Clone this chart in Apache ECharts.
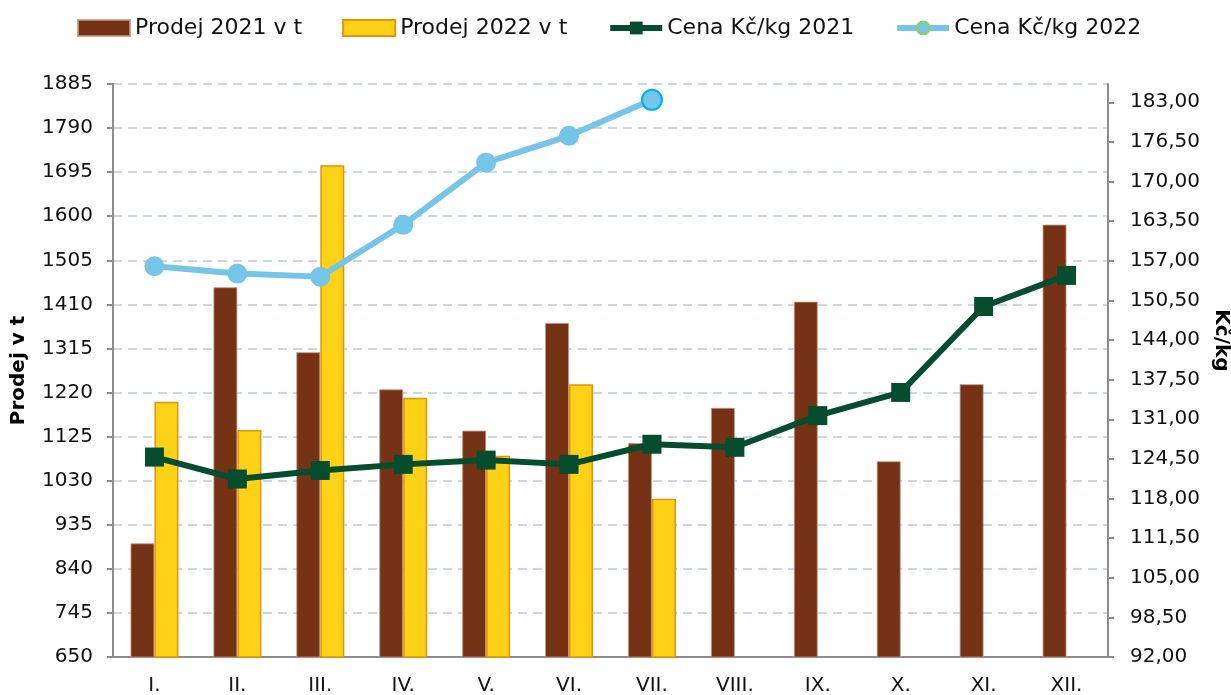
<!DOCTYPE html>
<html>
<head>
<meta charset="utf-8">
<title>Prodej a cena</title>
<script src="https://cdn.jsdelivr.net/npm/echarts@6/dist/echarts.min.js"></script>
<style>
	html, body { margin: 0; padding: 0; background: #fff; }
	#chart { width: 1231px; height: 695px; }
</style>
</head>
<body>
<div id="chart"></div>
<script>
var months = ['I.', 'II.', 'III.', 'IV.', 'V.', 'VI.', 'VII.', 'VIII.', 'IX.', 'X.', 'XI.', 'XII.'];
var prodej2021 = [895, 1447, 1307, 1227, 1138, 1370, 1111, 1187, 1416, 1072, 1238, 1582];
var prodej2022 = [1200, 1139, 1710, 1209, 1084, 1238, 991];
var cena2021 = [124.8, 121.2, 122.6, 123.6, 124.3, 123.6, 126.9, 126.4, 131.6, 135.4, 149.5, 154.6];
var cena2022 = [156.1, 154.9, 154.4, 162.9, 173.1, 177.5, 183.4];

var main = {
	init: function() {
		main.chart()
	},
	chart: function() {
		var myChart = echarts.init(document.getElementById('chart'));
		var font = 'DejaVu Sans, Verdana, sans-serif';

		// posledni bod 2022 ma tmavsi okraj
		var cena2022Data = cena2022.map(function(v, i) {
			if (i == cena2022.length - 1) {
				return { value: v, itemStyle: { borderColor: '#00B0F0', borderWidth: 2 } };
			}
			return v;
		});

		var option = {
			animation: false,
			textStyle: { fontFamily: font },
			legend: {
				top: 12,
				left: 72,
				itemWidth: 52,
				itemHeight: 16,
				itemGap: 40,
				textStyle: { fontSize: 22, color: '#111', fontFamily: font },
				data: [
					{ name: 'Prodej 2021 v t', icon: 'rect' },
					{ name: 'Prodej 2022 v t', icon: 'rect' },
					{ name: 'Cena Kč/kg 2021', lineStyle: { width: 6 } },
					{ name: 'Cena Kč/kg 2022', lineStyle: { width: 6 }, itemStyle: { borderColor: '#92D050', borderWidth: 2 } }
				]
			},
			grid: {
				left: 113,
				right: 123,
				top: 84,
				bottom: 38,
				outerBoundsMode: 'none'
			},
			xAxis: {
				type: 'category',
				data: months,
				axisLine: { lineStyle: { color: '#8c8c8c', width: 2 } },
				axisTick: { show: false },
				axisLabel: { fontSize: 20, color: '#111', margin: 19 }
			},
			yAxis: [{
				type: 'value',
				name: 'Prodej v t',
				nameLocation: 'middle',
				nameGap: 84,
				nameTextStyle: { fontSize: 20, fontWeight: 'bold', color: '#000' },
				min: 650,
				max: 1885,
				interval: 95,
				axisLine: { show: true, lineStyle: { color: '#8c8c8c', width: 2 } },
				axisTick: { show: true, length: 6, lineStyle: { color: '#8c8c8c', width: 2 } },
				axisLabel: {
					fontSize: 20,
					color: '#111',
					margin: 20,
					formatter: function(v) {
						return String(v);
					}
				},
				splitLine: {
					show: true,
					lineStyle: { color: '#cdd5e8', width: 2, type: [9, 6] }
				}
			}, {
				type: 'value',
				name: 'Kč/kg',
				nameLocation: 'middle',
				nameGap: 98,
				nameRotate: -90,
				nameTextStyle: { fontSize: 20, fontWeight: 'bold', color: '#000', padding: [0, 60, 0, 0] },
				min: 92,
				max: 186,
				interval: 6.5,
				axisLine: { show: true, lineStyle: { color: '#8c8c8c', width: 2 } },
				axisTick: { show: true, length: 6, lineStyle: { color: '#8c8c8c', width: 2 } },
				axisLabel: {
					fontSize: 20,
					color: '#111',
					margin: 22,
					showMaxLabel: false,
					formatter: function(v) {
						return v.toFixed(2).replace('.', ',');
					}
				},
				splitLine: { show: false }
			}],
			series: [{
				name: 'Prodej 2021 v t',
				type: 'bar',
				barWidth: 24,
				barGap: '0%',
				itemStyle: { color: '#763214', borderColor: 'rgba(190,150,130,0.8)', borderWidth: 1 },
				data: prodej2021
			}, {
				name: 'Prodej 2022 v t',
				type: 'bar',
				barWidth: 24,
				itemStyle: { color: '#FCD116', borderColor: '#E3940B', borderWidth: 1.5 },
				data: prodej2022
			}, {
				name: 'Cena Kč/kg 2021',
				type: 'line',
				yAxisIndex: 1,
				symbol: 'rect',
				symbolSize: 19,
				lineStyle: { color: '#064C2E', width: 6 },
				itemStyle: { color: '#064C2E' },
				data: cena2021
			}, {
				name: 'Cena Kč/kg 2022',
				type: 'line',
				yAxisIndex: 1,
				symbol: 'circle',
				symbolSize: 20,
				lineStyle: { color: '#75C5E8', width: 6 },
				itemStyle: { color: '#75C5E8' },
				data: cena2022Data
			}]
		};
		myChart.setOption(option);
	}
}

main.init()
</script>
</body>
</html>
